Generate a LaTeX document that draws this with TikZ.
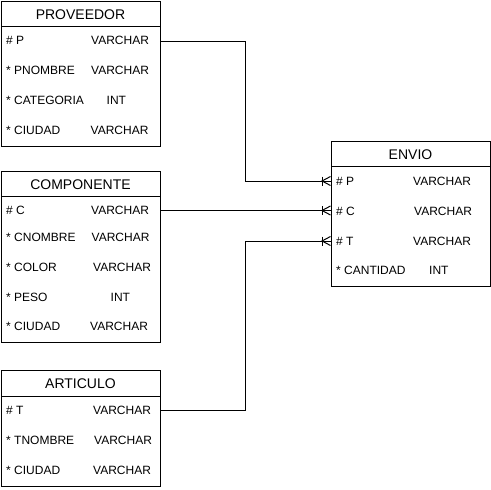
\documentclass[tikz,border=0pt]{standalone}
\usepackage{fontspec}
\setmainfont{Liberation Sans}
\begin{document}
\begin{tikzpicture}[x=1pt,y=-1pt,
  ent/.style={draw, line width=1pt, inner sep=0pt, minimum width=159pt},
  hdr/.style={draw, line width=1pt},
  ttl/.style={font=\fontsize{14}{16}\selectfont, inner sep=0pt, text height=10pt, text depth=0pt},
  fld/.style={font=\fontsize{12}{14}\selectfont, anchor=west, inner sep=0pt, text height=8.6pt, text depth=0pt},
  rel/.style={draw, line width=1pt},
  crow/.style={draw, line width=1pt}
]
\useasboundingbox (0,0) rectangle (491,490);
\fill[white] (0,0) rectangle (491,490);

% PROVEEDOR
\node[ent, minimum height=145pt] (prov) at (80.5,73.5) {};
\draw[hdr] (1,26) -- (160,26);
\node[ttl] (provt) at (80.5,14) {PROVEEDOR};
\node[fld] (pP) at (6,40) {\# P};
\node[fld] (pPt) at (91,40) {VARCHAR};
\node[fld] (pN) at (6,70) {* PNOMBRE};
\node[fld] (pNt) at (91,70) {VARCHAR};
\node[fld] (pC) at (6,100) {* CATEGORIA};
\node[fld] (pCt) at (106.5,100) {INT};
\node[fld] (pU) at (6,130) {* CIUDAD};
\node[fld] (pUt) at (90.5,130) {VARCHAR};

% COMPONENTE
\node[ent, minimum height=171pt] (comp) at (80.5,256.5) {};
\draw[hdr] (1,196) -- (160,196);
\node[ttl] (compt) at (80.5,184) {COMPONENTE};
\node[fld] (cC) at (6,210) {\# C};
\node[fld] (cCt) at (91,210) {VARCHAR};
\node[fld] (cN) at (6,237) {* CNOMBRE};
\node[fld] (cNt) at (91.5,237) {VARCHAR};
\node[fld] (cL) at (6,267) {* COLOR};
\node[fld] (cLt) at (93,267) {VARCHAR};
\node[fld] (cP) at (6,297) {* PESO};
\node[fld] (cPt) at (110.5,297) {INT};
\node[fld] (cU) at (6,326) {* CIUDAD};
\node[fld] (cUt) at (90,326) {VARCHAR};

% ARTICULO
\node[ent, minimum height=116pt] (art) at (80.5,428) {};
\draw[hdr] (1,396) -- (160,396);
\node[ttl] (artt) at (80.5,383) {ARTICULO};
\node[fld] (aT) at (6,410) {\# T};
\node[fld] (aTt) at (93,410) {VARCHAR};
\node[fld] (aN) at (6,440) {* TNOMBRE};
\node[fld] (aNt) at (94,440) {VARCHAR};
\node[fld] (aU) at (6,470) {* CIUDAD};
\node[fld] (aUt) at (93,470) {VARCHAR};

% ENVIO
\node[ent, minimum height=145pt] (env) at (410.5,213.5) {};
\draw[hdr] (331,166) -- (490,166);
\node[ttl] (envt) at (410.5,154) {ENVIO};
\node[fld] (eP) at (336,181) {\# P};
\node[fld] (ePt) at (413,181) {VARCHAR};
\node[fld] (eC) at (336,211) {\# C};
\node[fld] (eCt) at (414,211) {VARCHAR};
\node[fld] (eT) at (336,241) {\# T};
\node[fld] (eTt) at (413,241) {VARCHAR};
\node[fld] (eQ) at (336,270) {* CANTIDAD};
\node[fld] (eQt) at (429,270) {INT};

% connectors
\coordinate (bend1) at (245.5,41);
\coordinate (bend3) at (245.5,410);
\draw[rel] (prov.east |- 0,41) -- (bend1) |- (env.west |- 0,181);
\draw[rel] (comp.east |- 0,210.5) -- (env.west |- 0,210.5);
\draw[rel] (art.east |- 0,410) -- (bend3) |- (env.west |- 0,241);

% crow's feet (one or many)
\foreach \yy in {181,210.5,241}{
  \draw[crow] (env.west |- 0,\yy) ++(0,-4.5) -- ++(-8.5,4.5) -- ++(8.5,4.5);
  \draw[crow] (env.west |- 0,\yy) ++(-8,-4.5) -- ++(0,9);
}
\end{tikzpicture}
\end{document}
